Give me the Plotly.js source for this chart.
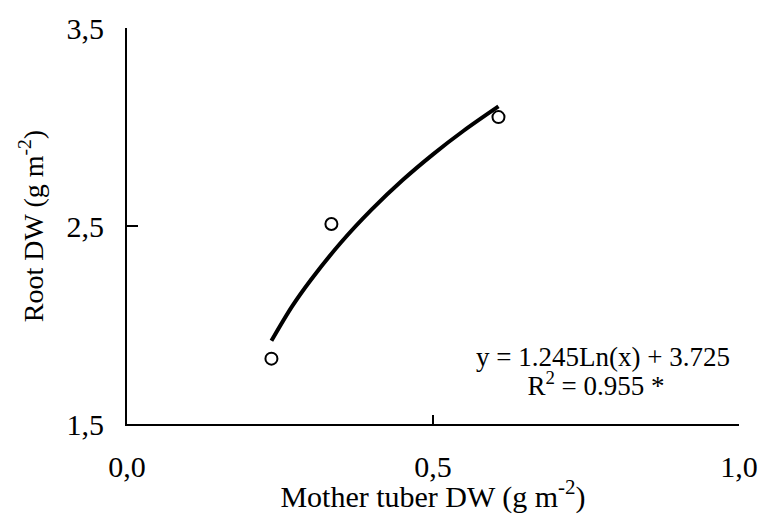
<!DOCTYPE html>
<html>
<head>
<meta charset="utf-8">
<script src="https://cdn.plot.ly/plotly-3.0.1.min.js"></script>
<style>html,body{margin:0;padding:0;background:#fff;}#chart{width:761px;height:514px;}</style>
</head>
<body>
<div id="chart"></div>
<script>
// Observed data points
const obsX = [0.236, 0.334, 0.607];
const obsY = [1.83, 2.51, 3.05];
// Fitted trend line points
const fitX = [0.236, 0.27, 0.30, 0.35, 0.40, 0.45, 0.50, 0.55, 0.607];
const fitY = [1.92, 2.095, 2.226, 2.418, 2.584, 2.731, 2.862, 2.981, 3.104];
const xTicks = [0, 0.5, 1.0];
const yTicks = [1.5, 2.5, 3.5];
const eqLine1 = 'y = 1.245Ln(x) + 3.725';
const eqLine2 = 'R<sup>2</sup> = 0.955 *';

const font = 'Liberation Serif, Times New Roman, serif';

const traces = [
  {x: fitX, y: fitY, type: 'scatter', mode: 'lines', line: {color: '#000', width: 4, shape: 'spline'}, hoverinfo: 'skip'},
  {x: obsX, y: obsY, type: 'scatter', mode: 'markers', marker: {symbol: 'circle-open', size: 12, color: '#000', line: {width: 2, color: '#000'}}}
];

const layout = {
  width: 761, height: 514,
  margin: {l: 127, r: 22, t: 28, b: 90},
  paper_bgcolor: '#fff', plot_bgcolor: '#fff',
  showlegend: false,
  separators: ', ',
  font: {family: font, size: 27, color: '#000'},
  xaxis: {
    range: [0, 1], tickvals: xTicks, tickformat: '.1f',
    showgrid: false, zeroline: false, showline: true, linecolor: '#000', linewidth: 2,
    ticks: 'inside', ticklen: 9, tickwidth: 2, tickcolor: '#000',
    ticklabelstandoff: 15,
    tickfont: {family: font, size: 30, color: '#000'},
    title: {text: 'Mother tuber DW (g m<sup>-2</sup>)', font: {family: font, size: 30, color: '#000'}, standoff: 10}
  },
  yaxis: {
    range: [1.5, 3.5], tickvals: yTicks, tickformat: '.1f',
    showgrid: false, zeroline: false, showline: true, linecolor: '#000', linewidth: 2,
    ticks: 'inside', ticklen: 11, tickwidth: 2, tickcolor: '#000',
    ticklabelstandoff: 15,
    tickfont: {family: font, size: 30, color: '#000'},
    title: {text: 'Root DW (g m<sup>-2</sup>)', font: {family: font, size: 28, color: '#000'}, standoff: 15}
  },
  annotations: [
    {xref: 'paper', yref: 'paper', x: 0.777, y: 0.170, xanchor: 'center', yanchor: 'middle',
     width: 340, height: 30, align: 'center', text: eqLine1, showarrow: false,
     font: {family: font, size: 27, color: '#000'}},
    {xref: 'paper', yref: 'paper', x: 0.767, y: 0.100, xanchor: 'center', yanchor: 'middle',
     width: 340, height: 30, align: 'center', text: eqLine2, showarrow: false,
     font: {family: font, size: 27, color: '#000'}}
  ]
};

Plotly.newPlot('chart', traces, layout, {displayModeBar: false, staticPlot: true});
</script>
</body>
</html>
